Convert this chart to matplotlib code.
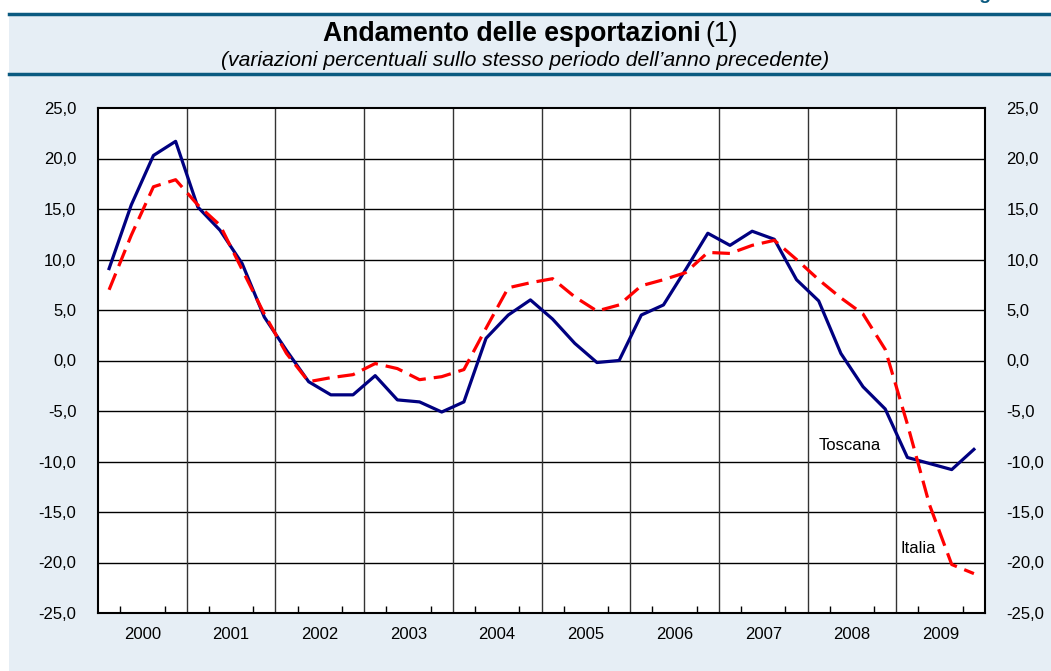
import numpy as np
import matplotlib.pyplot as plt
from matplotlib.lines import Line2D
from matplotlib.patches import Rectangle

plt.rcParams['font.family'] = ['Liberation Sans', 'DejaVu Sans']

# Data: quarterly % change, 2000Q1 - 2009Q4
years = ['2000', '2001', '2002', '2003', '2004', '2005', '2006', '2007', '2008', '2009']
toscana = [9.1, 15.4, 20.3, 21.7, 15.2, 12.9, 9.6, 4.3,
           1.0, -2.1, -3.4, -3.4, -1.5, -3.9, -4.1, -5.1,
           -4.1, 2.2, 4.5, 6.0, 4.1, 1.7, -0.2, 0.0,
           4.5, 5.5, 9.0, 12.6, 11.4, 12.8, 12.0, 8.0,
           5.9, 0.7, -2.6, -4.8, -9.6, -10.2, -10.8, -8.8]
italia = [7.0, 12.4, 17.2, 17.9, 15.4, 13.4, 9.0, 4.6,
          0.7, -2.1, -1.7, -1.4, -0.3, -0.8, -1.9, -1.6,
          -0.9, 3.2, 7.2, 7.7, 8.1, 6.3, 4.9, 5.5,
          7.4, 8.0, 8.7, 10.7, 10.6, 11.4, 11.9, 10.0,
          8.0, 6.2, 4.6, 1.1, -6.3, -14.3, -20.2, -21.1]
yticks = np.arange(-25, 26, 5)

bg = '#e6eef5'
dark = '#0b5a80'
W, H = 1051, 671

fig = plt.figure(figsize=(W / 100, H / 100), dpi=100)
fig.patch.set_facecolor(bg)
# white margin strips on the left and top
fig.patches.append(Rectangle((0, 0), 9 / W, 1, transform=fig.transFigure,
                             facecolor='white', edgecolor='none', zorder=-5))
fig.patches.append(Rectangle((0, 1 - 14 / H), 1, 14 / H, transform=fig.transFigure,
                             facecolor='white', edgecolor='none', zorder=-5))
for yy in [13.5, 74]:
    fig.lines.append(Line2D([9 / W, 1], [1 - yy / H, 1 - yy / H], transform=fig.transFigure,
                            color=dark, lw=2.5))

title_bold = fig.text(0.5 - 14 / W, 1 - 34 / H, 'Andamento delle esportazioni', ha='center',
                      va='center', fontsize=19.2, fontweight='bold')
fig.canvas.draw()
bb = title_bold.get_window_extent()
fig.text((bb.x1 + 5) / W, 1 - 34 / H, '(1)', ha='left', va='center', fontsize=19.2)
fig.text(0.5, 1 - 61 / H, "(variazioni percentuali sullo stesso periodo dell\u2019anno precedente)",
         ha='center', va='center', fontsize=15.2, style='italic')
# page label, cut off at the top edge as in the source
fig.text(962 / W, 1 + 1 / H, 'Figura 1', ha='left', va='baseline', fontsize=14,
         fontweight='bold', color=dark)

ax = fig.add_axes([98 / W, 58 / H, 887 / W, 505 / H])
ax.set_facecolor('white')
x = np.arange(len(toscana)) + 0.5
ax.plot(x, toscana, color='#000080', lw=2.3, zorder=3)
ax.plot(x, italia, color='#ff0000', lw=2.3, dashes=(5.5, 2.5), zorder=3)

ax.set_xlim(0, 40)
ax.set_ylim(-25, 25)
ax.set_yticks(yticks)
ax.set_yticklabels([f'{v:.1f}'.replace('.', ',') for v in yticks], fontsize=12)
ax.tick_params(axis='y', which='both', left=False, right=False, labelleft=True,
               labelright=True, pad=12)
for v in yticks[1:-1]:
    ax.axhline(v, color='black', lw=1.0, zorder=1)
for k in range(4, 40, 4):
    ax.axvline(k, color='#333333', lw=1.0, zorder=1)

ax.set_xticks(np.arange(2, 40, 4))
ax.set_xticklabels(years, fontsize=12)
ax.set_xticks([q for q in range(1, 40) if q % 4 != 0], minor=True)
ax.tick_params(axis='x', which='major', length=0, pad=10)
ax.tick_params(axis='x', which='minor', direction='in', length=5, width=1, color='black')
for s in ax.spines.values():
    s.set_linewidth(1.5)
    s.set_color('black')

ax.text(32.5, -8.4, 'Toscana', fontsize=12, va='center', ha='left')
ax.text(36.2, -18.6, 'Italia', fontsize=12, va='center', ha='left')

fig.savefig('out.png', dpi=100, facecolor=fig.get_facecolor())
